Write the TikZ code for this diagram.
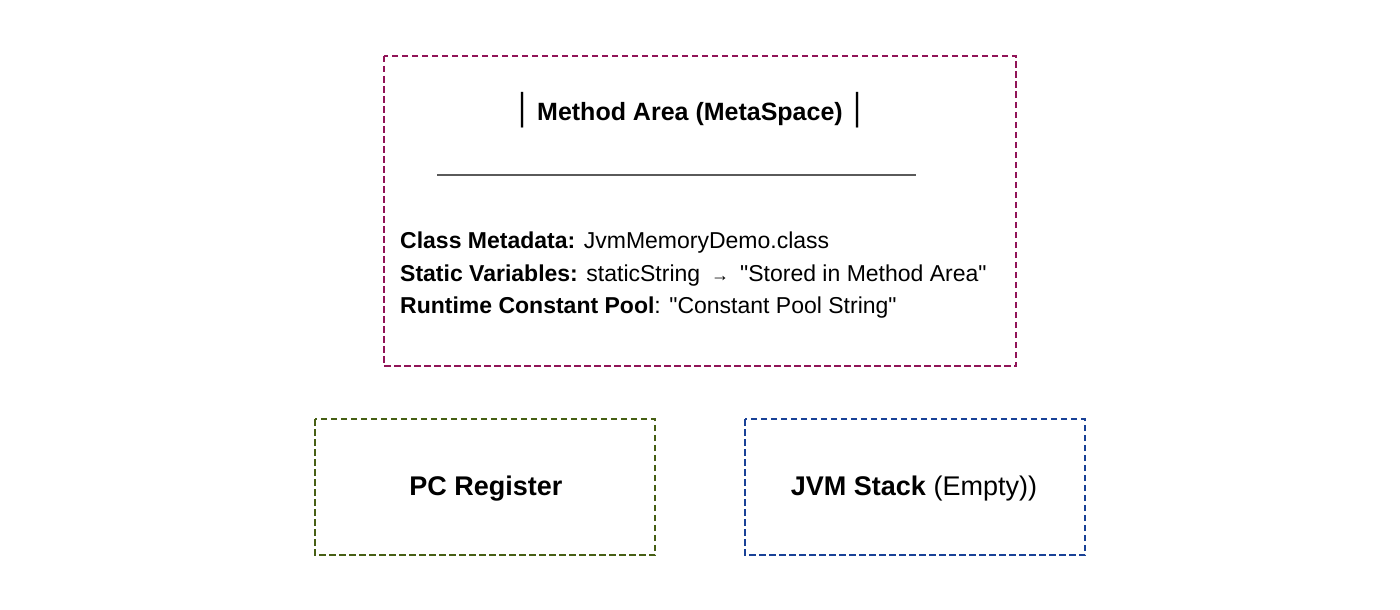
\documentclass[tikz,border=0pt]{standalone}
\usepackage{fontspec}
\setmainfont{Liberation Sans}[Ligatures=TeXOff]
\newfontfamily\dejavu{DejaVu Sans}
\definecolor{maroonbox}{RGB}{145,20,88}
\definecolor{olivebox}{RGB}{70,95,20}
\definecolor{bluebox}{RGB}{25,65,150}
\definecolor{rulegray}{RGB}{90,90,90}
\tikzset{
  areabox/.style={draw=#1, line width=2.6pt, dash pattern=on 6.5pt off 3.5pt},
  bodytext/.style={anchor=base west, inner sep=0pt, font=\fontsize{23}{27}\selectfont},
  boxlabel/.style={inner sep=0pt, font=\fontsize{27}{32}\selectfont}
}
\begin{document}
\begin{tikzpicture}[x=1pt,y=-1pt]
\useasboundingbox (0,0) rectangle (1400,610);
% boxes
\draw[areabox=maroonbox] (384,56) rectangle (1016,366);
\draw[areabox=olivebox] (315,419) rectangle (655,555);
\draw[areabox=bluebox] (745,419) rectangle (1085,555);
% title
\node[boxlabel, font=\fontsize{25}{30}\selectfont] (title) at (690,110)
  {{\dejavu\fontsize{30}{34}\selectfont │}\kern6pt\textbf{Method Area (MetaSpace)}\kern6pt{\dejavu\fontsize{30}{34}\selectfont │}};
\coordinate (ruleL) at (437,175);
\coordinate (ruleR) at (916,175);
\draw[rulegray, line width=1.5pt] (ruleL) -- (ruleR);
% body
\node[bodytext] (l1) at (400,248) {\textbf{Class Metadata:} JvmMemoryDemo.class};
\node[bodytext] (l2) at (400,281) {\textbf{Static Variables:} staticString\hspace{11pt}{\fontsize{18}{20}\selectfont →}\hspace{11pt}"Stored in Method Area"};
\node[bodytext] (l3) at (400,313) {\textbf{Runtime Constant Pool}: "Constant Pool String"};
% lower boxes
\node[boxlabel] (pc) at (486,489) {\textbf{PC Register}};
\node[boxlabel] (jvm) at (914,489) {\textbf{JVM Stack} (Empty))};
\end{tikzpicture}
\end{document}
